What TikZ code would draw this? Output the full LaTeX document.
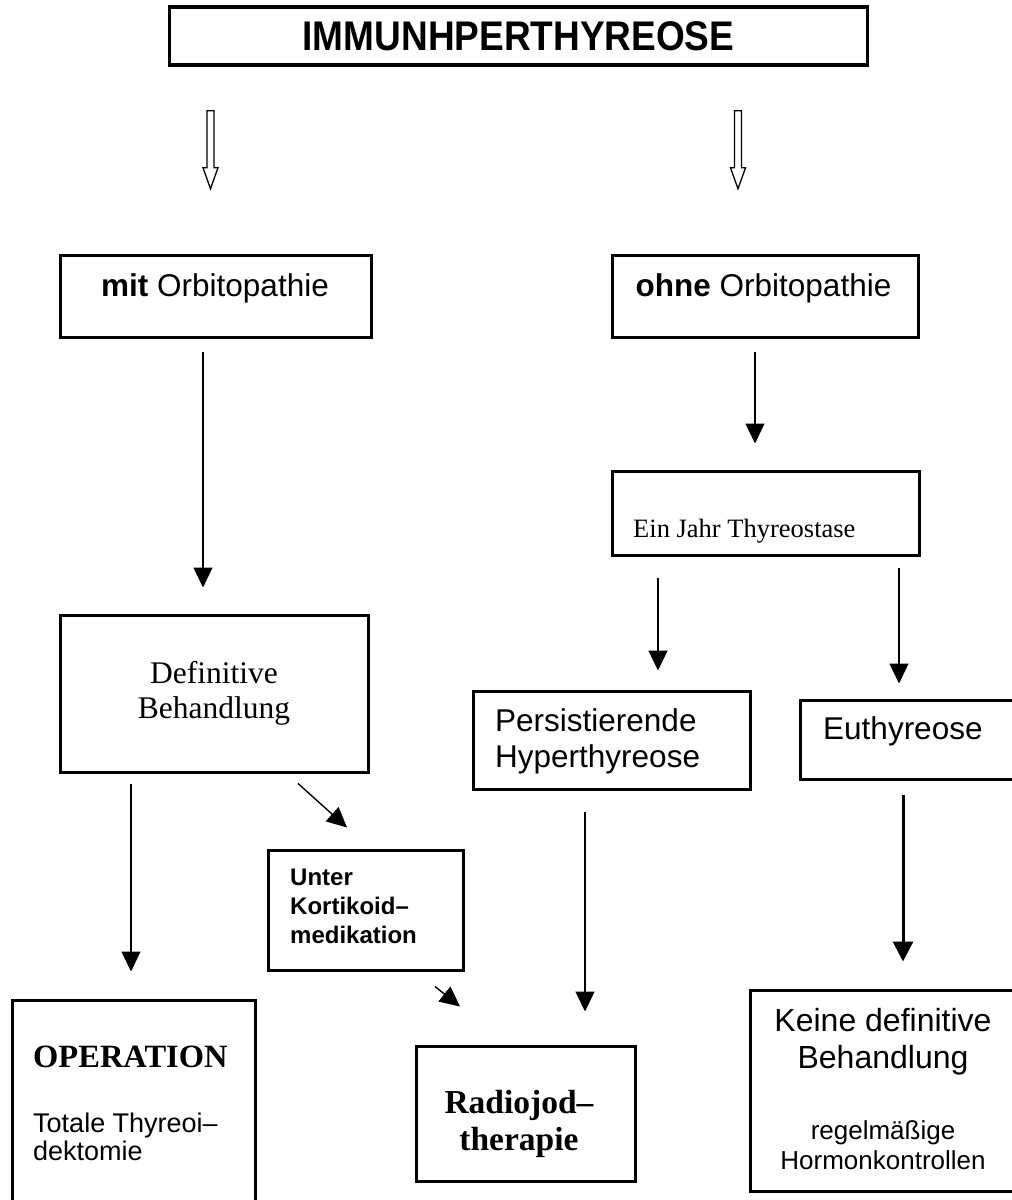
\documentclass[tikz,border=0pt]{standalone}
\usepackage{fontspec}
\setmainfont{Liberation Serif}
\setsansfont{Liberation Sans}
\usetikzlibrary{arrows.meta,calc}
\newcommand\setfs[2]{\fontsize{#1}{#2}\selectfont}
\begin{document}
\begin{tikzpicture}[x=1pt,y=-1pt,
  box/.style={draw, line width=3pt, inner sep=0pt, rectangle},
  txt/.style={inner sep=0pt},
  arr/.style={line width=1.4pt, -{Triangle[length=20pt,width=19pt]}},
  arrthick/.style={line width=3pt, -{Triangle[length=20pt,width=20pt]}},
  hollow/.style={draw, line width=1.3pt, line join=miter},
  sansbig/.style={txt, font=\sffamily\setfs{31.5}{36}},
  sanssmall/.style={txt, font=\sffamily\setfs{27}{28}},
]
\useasboundingbox (0,0) rectangle (1012,1200);
\clip (0,0) rectangle (1012,1200);

% title
\node[box, line width=3.5pt, minimum width=698pt, minimum height=58pt] (title) at (518.5,36)
  {\scalebox{1}[1.12]{\sffamily\bfseries\setfs{37}{40}IMMUNHPERTHYREOSE}};

% first level
\node[box, minimum width=311pt, minimum height=82pt] (mit) at (215.5,296) {};
\node[sansbig] (mitT) at (215,288) {\textbf{mit} Orbitopathie};
\node[box, minimum width=306pt, minimum height=82pt] (ohne) at (765,296) {};
\node[sansbig] (ohneT) at (763.5,288) {\textbf{ohne} Orbitopathie};

% hollow arrows
\coordinate (hL) at ($(title.south)+(-308,44)$);
\coordinate (hR) at ($(title.south)+(219.5,44)$);
\draw[hollow] (hL) ++(-3.5,0) -- ++(7,0) -- ++(0,57) -- ++(4,0) -- ++(-7.5,21) -- ++(-7.5,-21) -- ++(4,0) -- cycle;
\draw[hollow] (hR) ++(-3.5,0) -- ++(7,0) -- ++(0,57) -- ++(4,0) -- ++(-7.5,21) -- ++(-7.5,-21) -- ++(4,0) -- cycle;

% boxes
\node[box, minimum width=307pt, minimum height=84pt] (ein) at (765.5,513) {};
\node[txt, anchor=base west, font=\rmfamily\setfs{26.5}{28}] (einT) at (633,537) {Ein Jahr Thyreostase};

\node[box, minimum width=308pt, minimum height=157pt, align=center, font=\rmfamily\setfs{31.5}{35}] (def) at (214,693.5)
  {Definitive\\Behandlung};

\node[box, minimum width=277pt, minimum height=98pt] (persist) at (611.5,740) {};
\node[sansbig, anchor=west, align=left] (persistT) at (495,741) {Persistierende\\Hyperthyreose};

\node[box, minimum width=230pt, minimum height=79pt] (eu) at (915,739.5) {};
\node[sansbig, anchor=west] (euT) at (823,731) {Euthyreose};

\node[box, minimum width=195pt, minimum height=120pt] (unter) at (365.5,910) {};
\node[txt, anchor=west, align=left, font=\sffamily\bfseries\setfs{24}{29}] (unterT) at (290,906)
  {Unter\\Kortikoid\textendash\\medikation};

\node[box, minimum width=243pt, minimum height=230pt] (op) at (133.5,1115) {};
\node[txt, anchor=west, font=\rmfamily\bfseries\setfs{32.5}{35}] (opT) at (33,1057) {OPERATION};
\node[sanssmall, anchor=west, align=left] (opT2) at (33,1137) {Totale Thyreoi\textendash\\dektomie};

\node[box, minimum width=219pt, minimum height=135pt] (radio) at (525.5,1113.5) {};
\node[txt, align=center, font=\rmfamily\bfseries\setfs{33.5}{37}] (radioT) at (519,1124) {Radiojod\textendash\\therapie};

\node[box, minimum width=266pt, minimum height=201pt] (keine) at (883,1090.5) {};
\node[txt, align=center, font=\sffamily\setfs{32}{37}] (keineT) at (883,1041.5) {Keine definitive\\Behandlung};
\node[txt, align=center, font=\sffamily\setfs{26}{30}] (keineT2) at (883,1145) {regelmäßige\\Hormonkontrollen};

% connectors
\draw[arr] ($(mit.south)+(-12.5,13)$) -- ($(def.north)+(-11,-26)$);
\draw[arr] ($(ohne.south)+(-10,13)$) -- ($(ein.north)+(-10.5,-26)$);
\draw[arr] ($(ein.south)+(-107.5,21)$) -- ($(persist.north)+(46.5,-19)$);
\draw[arr] ($(ein.south)+(133.5,11)$) -- ($(eu.north)+(-16,-15)$);
\draw[arr] ($(def.south)+(-83,10)$) -- ($(op.north)+(-2.5,-27)$);
\draw[arr] ($(def.south)+(84,10)$) -- ($(unter.north)+(-18.5,-21)$);
\draw[arr] ($(unter.south)+(69.5,15)$) -- ($(radio.north)+(-65.5,-38)$);
\draw[arr] ($(persist.south)+(-26.5,21)$) -- ($(radio.north)+(59.5,-33)$);
\draw[arrthick] ($(eu.south)+(-12,14)$) -- ($(keine.north)+(20,-27)$);
\end{tikzpicture}
\end{document}
